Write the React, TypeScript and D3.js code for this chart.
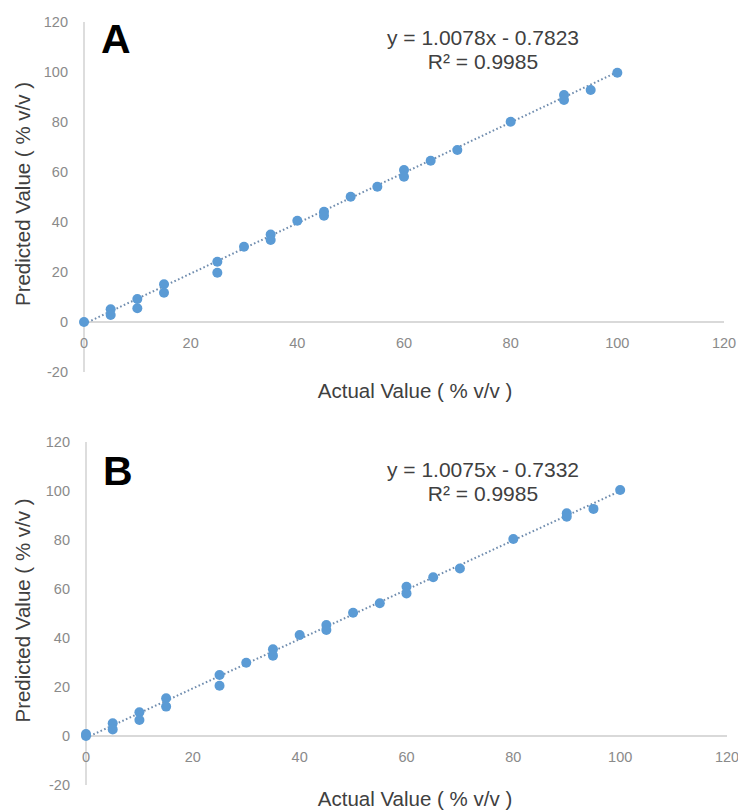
import React from "react";
import * as d3 from "d3";

// panel A readings
const actualA = [0, 5, 5, 10, 10, 15, 15, 25, 25, 30, 35, 35, 40, 45, 45, 50, 55, 60, 60, 65, 70, 80, 90, 90, 95, 100];
const predictedA = [0, 5.1, 2.8, 9.2, 5.5, 15.1, 11.7, 24.1, 19.7, 30.1, 35, 32.8, 40.5, 44.1, 42.5, 50.1, 54.1, 60.8, 58.1, 64.5, 68.8, 80.1, 90.8, 88.8, 92.8, 99.7];

// panel B readings
const actualB = [0, 0, 5, 5, 10, 10, 15, 15, 25, 25, 30, 35, 35, 40, 45, 45, 50, 55, 60, 60, 65, 70, 80, 90, 90, 95, 100];
const predictedB = [0, 0.8, 5.2, 2.7, 9.7, 6.5, 15.4, 12, 24.9, 20.5, 29.9, 35.4, 32.8, 41.2, 45.3, 43.3, 50.3, 54.2, 60.9, 58.2, 64.8, 68.4, 80.4, 90.9, 89.5, 92.7, 100.4];

const fitA = { slope: 1.0078, intercept: -0.7823, r2: "0.9985", eq: "y = 1.0078x - 0.7823" };
const fitB = { slope: 1.0075, intercept: -0.7332, r2: "0.9985", eq: "y = 1.0075x - 0.7332" };

const xTicks = [0, 20, 40, 60, 80, 100, 120];
const yTicks = [-20, 0, 20, 40, 60, 80, 100, 120];

const FONT = "'Liberation Sans', Arial, sans-serif";
const BLUE = "#5b9bd5";

function Panel({ label, actual, predicted, fit, x0, x1, yZero, yTop, top, titleGap }) {
  const x = d3.scaleLinear().domain([0, 120]).range([x0, x1]);
  const y = d3.scaleLinear().domain([0, 120]).range([yZero, yTop]);
  const line = d3.line<number>().x(d => x(d)).y(d => y(fit.slope * d + fit.intercept));
  const pts = d3.zip(actual, predicted);
  const midY = (y(120) + y(-20)) / 2;

  return (
    <g>
      {/* axes */}
      <line x1={x(0)} x2={x(0)} y1={y(120)} y2={y(-20)} stroke="#c6c6c6" strokeWidth={1.2} />
      <line x1={x(0)} x2={x(120)} y1={y(0)} y2={y(0)} stroke="#d9d9d9" strokeWidth={2} />

      {yTicks.map(t => (
        <text key={"y" + t} x={x0 - 16} y={y(t)} dy="0.35em" textAnchor="end"
          fontSize={14.5} fill="#8a8a8a" fontFamily={FONT}>{t}</text>
      ))}
      {xTicks.map(t => (
        <text key={"x" + t} x={x(t)} y={y(0) + 21} dy="0.35em" textAnchor="middle"
          fontSize={14.5} fill="#8a8a8a" fontFamily={FONT}>{t}</text>
      ))}

      {/* trendline */}
      <path d={line([0, 100]) || ""} fill="none" stroke="#6f8cae" strokeWidth={2}
        strokeDasharray="1.6 2.4" />

      {pts.map(([a, p], i) => (
        <circle key={i} cx={x(a)} cy={y(p)} r={5} fill={BLUE} />
      ))}

      <text x={x0 + 17} y={top + 31} fontSize={41} fontWeight="bold" fill="#000" fontFamily={FONT}>{label}</text>

      <text x={483} y={top + 23} textAnchor="middle" fontSize={21} fill="#404040" fontFamily={FONT}>{fit.eq}</text>
      <text x={483} y={top + 47} textAnchor="middle" fontSize={21} fill="#404040" fontFamily={FONT}>R² = {fit.r2}</text>

      <text transform={`translate(30,${midY - 3}) rotate(-90)`} textAnchor="middle"
        fontSize={20.5} fill="#404040" fontFamily={FONT}>Predicted Value ( % v/v )</text>
      <text x={415} y={y(-20) + titleGap} textAnchor="middle" fontSize={20.5} fill="#404040"
        fontFamily={FONT}>Actual Value ( % v/v )</text>
    </g>
  );
}

export default function App() {
  return (
    <svg width={738} height={812} style={{ position: "absolute", left: 0, top: 0, background: "#fff" }}>
      <rect width={738} height={812} fill="#fff" />
      <Panel label="A" actual={actualA} predicted={predictedA} fit={fitA}
        x0={84} x1={724} yZero={322} yTop={22} top={22} titleGap={26} />
      <Panel label="B" actual={actualB} predicted={predictedB} fit={fitB}
        x0={86} x1={727} yZero={736} yTop={442} top={454} titleGap={21} />
    </svg>
  );
}
